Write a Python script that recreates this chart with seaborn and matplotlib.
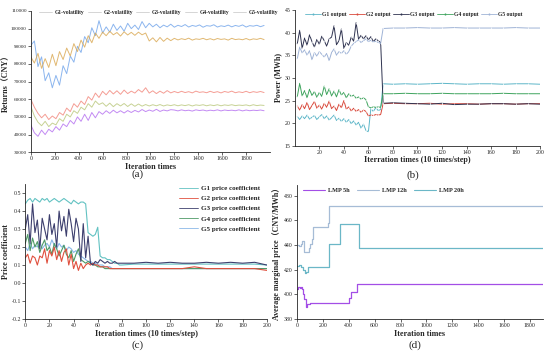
import numpy as np
import pandas as pd
import seaborn as sns
import matplotlib.pyplot as plt
from matplotlib.lines import Line2D

# ---------------- data ----------------
# (a) returns, in thousand CNY, one sample every 30 iterations
step_a = 30
g1_vol = [90.5, 93.0, 78.5, 84.0, 70.5, 75.0, 66.5, 73.5, 68.0, 79.0,
          74.5, 84.5, 81.0, 90.0, 86.5, 95.5, 92.0, 100.5, 96.0, 104.5,
          97.5, 101.0, 98.0, 102.5, 99.0, 101.5, 98.5, 103.0, 100.0, 102.0,
          99.5, 104.0, 100.5, 103.0, 101.0, 102.5, 100.5, 102.0, 101.0, 102.5,
          100.8, 101.9, 101.2, 102.3, 100.9, 101.8, 101.3, 102.1, 100.8, 101.7,
          101.4, 102.2, 100.9, 101.6, 101.2, 102.0, 101.0, 101.8, 101.3, 102.1,
          100.9, 101.7, 101.4, 101.9, 101.1, 101.8]
g2_vol = [60.0, 55.5, 52.0, 49.5, 51.5, 48.5, 50.5, 49.0, 52.5, 51.0,
          55.0, 53.0, 57.5, 55.5, 59.0, 57.0, 61.5, 59.5, 63.5, 61.0,
          64.5, 62.5, 65.0, 63.0, 64.8, 62.8, 65.2, 63.2, 64.6, 63.5,
          65.5, 64.0, 66.5, 63.5, 64.8, 63.2, 64.6, 63.4, 64.9, 63.6,
          64.4, 63.7, 64.5, 63.8, 64.3, 63.6, 64.6, 63.9, 64.2, 63.7,
          64.5, 63.8, 64.3, 63.6, 64.4, 63.9, 64.6, 63.7, 64.2, 63.8,
          64.5, 63.7, 64.3, 63.9, 64.4, 63.8]
g3_vol = [84.0, 80.5, 86.0, 77.5, 83.0, 78.0, 85.5, 79.0, 87.0, 82.5,
          89.0, 84.5, 91.5, 87.0, 93.5, 89.5, 96.0, 92.0, 97.5, 94.5,
          98.0, 96.0, 98.5, 96.5, 97.8, 95.8, 98.2, 96.4, 97.9, 96.2,
          98.0, 96.5, 97.5, 93.0, 94.8, 92.5, 95.0, 92.8, 94.6, 93.2,
          94.5, 93.6, 94.3, 93.8, 94.6, 93.5, 94.2, 93.9, 94.5, 93.7,
          94.3, 93.6, 94.4, 93.9, 94.2, 93.5, 94.5, 93.8, 94.1, 93.7,
          94.4, 93.6, 94.2, 93.9, 94.5, 93.8]
g4_vol = [56.0, 50.5, 47.0, 45.0, 47.5, 44.5, 46.5, 45.5, 49.0, 47.5,
          51.5, 50.0, 53.5, 52.0, 55.5, 54.0, 57.5, 55.5, 59.0, 57.0,
          58.0, 56.0, 57.8, 55.8, 57.5, 56.2, 57.6, 55.9, 57.4, 56.0,
          57.3, 56.1, 57.0, 56.2, 56.9, 56.3, 57.0, 56.2, 56.8, 56.4,
          56.9, 56.3, 56.8, 56.4, 56.9, 56.2, 56.8, 56.5, 56.9, 56.3,
          56.8, 56.4, 56.9, 56.3, 56.8, 56.5, 56.9, 56.4, 56.7, 56.5,
          56.8, 56.3, 56.9, 56.4, 56.7, 56.5]
g5_vol = [45.5, 41.0, 39.0, 42.5, 40.0, 43.0, 41.5, 44.5, 42.5, 46.0,
          44.5, 48.0, 46.0, 50.0, 47.5, 51.5, 48.0, 52.5, 49.5, 53.0,
          51.5, 53.5, 52.0, 53.8, 52.3, 53.5, 52.2, 53.6, 52.5, 53.7,
          52.8, 54.2, 53.0, 53.9, 53.2, 54.3, 53.1, 53.9, 53.4, 54.1,
          53.9, 53.4, 54.0, 53.5, 53.8, 53.3, 54.0, 53.6, 53.9, 53.4,
          53.8, 53.5, 54.0, 53.4, 53.9, 53.6, 53.8, 53.5, 54.0, 53.4,
          53.9, 53.5, 53.8, 53.6, 53.9, 53.5]

# (b) output power (MWh); steps 2..70 every 2, then 72 and 80..200 every 10
steps_b = list(range(2, 71, 2)) + [72] + list(range(80, 201, 10))
g1_out = [21.5, 20.8, 21.6, 21.0, 21.8, 20.9, 21.3, 21.7, 20.8, 21.4,
          21.9, 21.0, 21.6, 20.7, 21.2, 21.8, 20.6, 21.1, 20.4, 21.0,
          20.2, 20.8, 19.9, 20.5, 19.6, 20.2, 18.9, 19.8, 18.4,
          18.1, 23.2, 22.6, 23.4, 22.8, 23.0,
          28.7, 28.6, 28.7, 28.6, 28.7, 28.8, 28.7, 28.6, 28.7, 28.7, 28.6, 28.7, 28.7, 28.6]
g2_out = [23.8, 22.9, 24.1, 23.2, 24.6, 23.0, 23.9, 24.8, 23.3, 24.0,
          23.1, 24.4, 23.5, 24.9, 23.2, 23.8, 22.8, 24.2, 23.4, 25.0,
          23.1, 23.6, 22.7, 23.3, 22.6, 23.0, 22.4, 22.9, 22.6,
          21.6, 21.8, 21.7, 21.9, 21.8, 21.9,
          24.3, 24.4, 24.3, 24.3, 24.4, 24.2, 24.3, 24.3, 24.2, 24.3, 24.3, 24.2, 24.3, 24.3]
g3_out = [37.5, 40.5, 36.5, 38.8, 37.2, 39.5, 38.0, 36.8, 38.5, 37.4,
          39.2, 38.2, 37.0, 38.6, 39.0, 41.5, 37.3, 38.2, 40.8, 36.5,
          37.8, 37.2, 39.0, 38.1, 42.2, 38.5, 39.4, 38.6, 39.3, 38.4,
          39.1, 38.0, 38.6, 38.2, 37.8,
          24.4, 24.5, 24.4, 24.3, 24.2, 24.4, 24.1, 24.2, 24.2, 24.3, 24.3, 24.2, 24.3, 24.2]
g4_out = [25.8, 28.8, 26.0, 27.2, 25.6, 27.5, 26.1, 27.0, 25.7, 26.8,
          25.9, 28.2, 26.3, 27.6, 26.0, 27.1, 25.8, 27.4, 26.2, 26.8,
          25.6, 26.5, 25.9, 26.2, 25.5, 25.8, 25.3, 25.6, 25.2,
          23.6, 23.4, 23.6, 23.5, 23.6, 23.5,
          26.5, 26.5, 26.6, 26.5, 26.5, 26.6, 26.5, 26.5, 26.5, 26.5, 26.6, 26.5, 26.5, 26.5]
g5_out = [34.2, 36.8, 35.5, 36.2, 35.0, 36.0, 34.0, 35.6, 34.8, 35.8,
          35.2, 34.6, 35.4, 33.8, 35.6, 36.4, 35.0, 35.8, 35.4, 36.0,
          35.2, 35.8, 37.0, 37.6, 38.0, 38.4, 37.8, 38.2, 38.6, 38.0,
          38.3, 37.9, 38.1, 37.8, 37.6,
          40.9, 41.0, 41.0, 41.1, 41.0, 41.0, 41.1, 41.0, 41.0, 41.0, 41.0, 41.1, 41.0, 41.0]

# (c) price coefficients; steps 0..80 every 2, then 90..200 every 10
steps_c = list(range(0, 81, 2)) + list(range(90, 201, 10))
g1_coef = [0.44, 0.46, 0.47, 0.45, 0.47, 0.46, 0.45, 0.47, 0.46, 0.47, 0.45, 0.46, 0.47,
           0.46, 0.45, 0.46, 0.47, 0.46, 0.45, 0.44, 0.46, 0.45, 0.44, 0.45, 0.45, 0.44,
           0.28, 0.27, 0.26, 0.27, 0.31, 0.15, 0.14, 0.14, 0.13, 0.13, 0.12, 0.11, 0.11, 0.10, 0.10,
           0.105, 0.105, 0.105, 0.105, 0.105, 0.105, 0.105, 0.105, 0.105, 0.105, 0.105, 0.10]
g2_coef = [0.14, 0.16, 0.11, 0.15, 0.14, 0.10, 0.15, 0.14, 0.19, 0.11, 0.18, 0.15, 0.20,
           0.13, 0.18, 0.12, 0.17, 0.19, 0.10, 0.16, 0.08, 0.12, 0.07, 0.11, 0.08, 0.10,
           0.11, 0.10, 0.11, 0.10, 0.10, 0.09, 0.09, 0.09, 0.09, 0.08, 0.08, 0.08, 0.08, 0.08, 0.08,
           0.08, 0.08, 0.08, 0.08, 0.08, 0.09, 0.08, 0.08, 0.08, 0.08, 0.08, 0.07]
g3_coef = [0.30, 0.38, 0.22, 0.44, 0.28, 0.35, 0.19, 0.36, 0.30, 0.24, 0.38, 0.27, 0.33,
           0.20, 0.40, 0.29, 0.37, 0.26, 0.41, 0.33, 0.23, 0.36, 0.30, 0.12, 0.33, 0.14,
           0.26, 0.11, 0.10, 0.12, 0.11, 0.13, 0.12, 0.11, 0.12, 0.11, 0.11, 0.12, 0.11, 0.11, 0.11,
           0.11, 0.115, 0.11, 0.115, 0.11, 0.11, 0.115, 0.11, 0.115, 0.11, 0.115, 0.10]
g4_coef = [0.22, 0.27, 0.18, 0.25, 0.20, 0.23, 0.17, 0.21, 0.24, 0.18, 0.20, 0.16, 0.22,
           0.19, 0.15, 0.18, 0.21, 0.16, 0.14, 0.18, 0.12, 0.16, 0.19, 0.13, 0.12, 0.11,
           0.12, 0.11, 0.10, 0.10, 0.09, 0.09, 0.09, 0.08, 0.08, 0.08, 0.08, 0.08, 0.08, 0.08, 0.08,
           0.08, 0.08, 0.08, 0.08, 0.08, 0.08, 0.08, 0.08, 0.08, 0.08, 0.08, 0.08]
g5_coef = [0.20, 0.18, 0.22, 0.19, 0.21, 0.20, 0.23, 0.19, 0.21, 0.22, 0.20, 0.24, 0.21,
           0.19, 0.22, 0.20, 0.21, 0.18, 0.20, 0.19, 0.17, 0.18, 0.16, 0.15, 0.14, 0.13,
           0.12, 0.12, 0.11, 0.11, 0.10, 0.10, 0.10, 0.09, 0.09, 0.09, 0.08, 0.08, 0.08, 0.08, 0.08,
           0.08, 0.08, 0.08, 0.08, 0.08, 0.08, 0.08, 0.08, 0.08, 0.08, 0.08, 0.08]

# (d) average LMP, step changes (iteration, price)
lmp5_it = [0, 10, 20, 30, 40, 50, 55, 70, 80, 100, 400, 420, 460, 1900]
lmp5_val = [404, 406, 405, 406, 404, 400, 396, 390, 392, 393, 397, 402, 408, 408]
lmp12_it = [0, 15, 30, 40, 55, 90, 100, 115, 125, 240, 250, 1900]
lmp12_val = [440, 439, 441, 443, 434, 438, 441, 445, 455, 458, 472, 472]
lmp20_it = [0, 15, 30, 45, 60, 70, 85, 250, 330, 480, 1900]
lmp20_val = [423, 424, 422, 420, 417, 418, 422, 441, 457, 438, 438]

# ---------------- style ----------------
sns.set_style('ticks')
plt.rcParams['font.family'] = ['Liberation Serif', 'Noto Sans CJK SC']
plt.rcParams['axes.linewidth'] = 0.6
plt.rcParams['xtick.major.width'] = 0.5
plt.rcParams['ytick.major.width'] = 0.5
plt.rcParams['xtick.major.size'] = 2
plt.rcParams['ytick.major.size'] = 2
plt.rcParams['xtick.labelsize'] = 4.2
plt.rcParams['ytick.labelsize'] = 4.2
plt.rcParams['xtick.major.pad'] = 1
plt.rcParams['ytick.major.pad'] = 1

lab = dict(fontsize=5.8, fontweight='bold')

fig = plt.figure(figsize=(5.5, 3.54), dpi=100)
ax_a = fig.add_axes([0.056, 0.570, 0.435, 0.399])
ax_b = fig.add_axes([0.536, 0.588, 0.446, 0.384])
ax_c = fig.add_axes([0.046, 0.099, 0.439, 0.381])
ax_d = fig.add_axes([0.540, 0.099, 0.447, 0.379])

# ---- (a)
cols_a = ['#6fa3ea', '#f2857a', '#d9a64e', '#b9c77a', '#b46ef0']
names_a = ['G1-volatility', 'G2-volatility', 'G3-volatility', 'G4-volatility', 'G5-volatility']
for vals, c in zip([g1_vol, g2_vol, g3_vol, g4_vol, g5_vol], cols_a):
    it = np.arange(len(vals)) * step_a
    sns.lineplot(x=it, y=np.array(vals) * 1000, ax=ax_a, color=c, lw=0.7, alpha=0.8)
ax_a.set_xlim(0, 2000)
ax_a.set_ylim(30000, 110000)
ax_a.set_xticks(range(0, 1801, 200))
ax_a.set_yticks(range(30000, 110001, 10000))
ax_a.tick_params(axis='y', labelsize=3.7)
ax_a.set_xlabel('Iteration times', labelpad=1, **lab)
ax_a.set_ylabel('Returns（CNY）', labelpad=0.5, **lab)
h = [Line2D([], [], color='#cfcfcf', lw=0.6) for _ in names_a]
ax_a.legend(h, names_a, loc='upper center', bbox_to_anchor=(0.535, 1.04), ncol=5, frameon=False,
            prop=dict(size=4.0, weight='bold'), handlelength=2.3, columnspacing=0.6, handletextpad=0.5)

# ---- (b)
cols_b = ['#5db6c8', '#d9483a', '#2f3350', '#3fa45e', '#9fb3d6']
names_b = ['G1 output', 'G2 output', 'G3 output', 'G4 output', 'G5 output']
for vals, c in zip([g1_out, g2_out, g3_out, g4_out, g5_out], cols_b):
    sns.lineplot(x=steps_b, y=vals, ax=ax_b, color=c, lw=0.7, marker='|', markersize=2,
                 markeredgewidth=0.5)
ax_b.set_xlim(0, 200)
ax_b.set_ylim(15, 45)
ax_b.set_xticks(range(20, 201, 20))
ax_b.set_yticks(range(15, 46, 5))
ax_b.set_xlabel('Iterration times (10 times/step)', labelpad=1, **lab)
ax_b.set_ylabel('Power (MWh)', labelpad=2, **lab)
h = [Line2D([], [], color=c, lw=0.6, marker='|', markersize=2) for c in cols_b]
ax_b.legend(h, names_b, loc='upper center', bbox_to_anchor=(0.485, 1.02), ncol=5, frameon=False,
            prop=dict(size=4.1, weight='bold'), handlelength=2.8, columnspacing=0.3, handletextpad=0.3)

# ---- (c)
cols_c = ['#62c2c2', '#e0503e', '#3d3f6e', '#4e9a66', '#8ab8e8']
names_c = ['G1 price coefficient', 'G2 price coefficient', 'G3 price coefficient',
           'G4 price coefficient', 'G5 price coefficient']
for vals, c in zip([g5_coef, g4_coef, g2_coef, g1_coef, g3_coef],
                   [cols_c[4], cols_c[3], cols_c[1], cols_c[0], cols_c[2]]):
    sns.lineplot(x=steps_c, y=vals, ax=ax_c, color=c, lw=0.8)
ax_c.set_xlim(0, 200)
ax_c.set_ylim(-0.2, 0.55)
ax_c.set_xticks(range(0, 201, 20))
ax_c.set_yticks(np.arange(-0.2, 0.51, 0.1))
ax_c.set_yticklabels(['%.1f' % v for v in np.arange(-0.2, 0.51, 0.1)])
ax_c.set_xlabel('Iteration times (10 times/step)', labelpad=1, **lab)
ax_c.set_ylabel('Price coefficient', labelpad=1, **lab)
h = [Line2D([], [], color=c, lw=0.6) for c in cols_c]
ax_c.legend(h, names_c, loc='upper right', bbox_to_anchor=(1.0, 1.04), frameon=False,
            prop=dict(size=5.1, weight='bold'), handlelength=2.6, handletextpad=0.5, labelspacing=0.6)

# ---- (d)
cols_d = ['#a34ee6', '#a6bcd6', '#6bb7c7']
names_d = ['LMP 5h', 'LMP 12h', 'LMP 20h']
for it, vals, c in zip([lmp5_it, lmp12_it, lmp20_it], [lmp5_val, lmp12_val, lmp20_val], cols_d):
    sns.lineplot(x=it, y=vals, ax=ax_d, color=c, lw=0.9, drawstyle='steps-post')
ax_d.set_xlim(0, 1900)
ax_d.set_ylim(380, 489)
ax_d.set_xticks(range(0, 1801, 200))
ax_d.set_yticks(range(380, 481, 20))
ax_d.set_xlabel('Iteration times', labelpad=1, **lab)
ax_d.set_ylabel('Average marginal price（CNY/MWh）', labelpad=2, **lab)
h = [Line2D([], [], color=c, lw=0.8) for c in cols_d]
ax_d.legend(h, names_d, loc='upper left', bbox_to_anchor=(0.0, 1.02), ncol=3, frameon=False,
            prop=dict(size=4.5, weight='bold'), handlelength=3.5, columnspacing=1.2, handletextpad=0.5)

for ax in [ax_a, ax_b, ax_c, ax_d]:
    sns.despine(ax=ax)

fig.text(0.251, 0.508, '(a)', ha='center', va='center', fontsize=8)
fig.text(0.751, 0.505, '(b)', ha='center', va='center', fontsize=8)
fig.text(0.251, 0.025, '(c)', ha='center', va='center', fontsize=8)
fig.text(0.755, 0.025, '(d)', ha='center', va='center', fontsize=8)

fig.savefig('out.png', dpi=100)
